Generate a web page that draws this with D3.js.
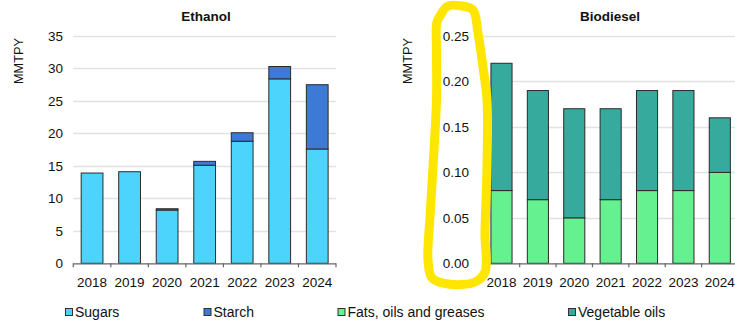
<!DOCTYPE html>
<html><head><meta charset="utf-8">
<script src="https://cdn.jsdelivr.net/npm/d3@7"></script>
<style>
html,body{margin:0;padding:0;background:#fff;}
svg{display:block;font-family:"Liberation Sans",Arial,sans-serif;}
</style></head>
<body><svg id="c" width="735" height="325"></svg>
<script>
const years = ["2018","2019","2020","2021","2022","2023","2024"];
const sugars = [13.9,14.1,8.2,15.1,18.8,28.4,17.6];
const starch = [0,0,0.2,0.6,1.3,1.9,9.9];
const fats = [0.08,0.07,0.05,0.07,0.08,0.08,0.10];
const vegOils = [0.14,0.12,0.12,0.10,0.11,0.11,0.06];
const ethanolTicks = [0,5,10,15,20,25,30,35];
const biodieselTicks = [0,0.05,0.10,0.15,0.20,0.25];

const svg = d3.select("#c");
const Y0 = 263.3, Y1 = 36;

function panel(o){
  const x = d3.scaleBand().domain(years).range([o.x0,o.x1]).paddingInner(0.42).paddingOuter(0.21);
  const y = d3.scaleLinear().domain(o.domain).range([Y0,Y1]);
  const g = svg.append("g");
  // grid
  g.selectAll("line.grid").data(o.ticks.slice(1)).join("line")
    .attr("x1",o.x0).attr("x2",o.gx1)
    .attr("y1",d=>Math.round(y(d))+0.5).attr("y2",d=>Math.round(y(d))+0.5)
    .attr("stroke","#e2e2e2").attr("stroke-width",1.3);
  // y tick labels
  g.selectAll("text.yt").data(o.ticks).join("text")
    .attr("x",o.labelX).attr("y",d=>y(d)).attr("dy","0.36em")
    .attr("text-anchor","end").attr("font-size","13.5px").attr("fill","#111")
    .text(o.fmt);
  // stacked bars
  const rows = years.map((yr,i)=>{const r={year:yr}; o.series.forEach(s=>r[s.key]=s.values[i]); return r;});
  const stack = d3.stack().keys(o.series.map(s=>s.key))(rows);
  stack.forEach((layer,li)=>{
    g.selectAll(null).data(layer.filter(d=>d[1]-d[0]>0)).join("rect")
      .attr("x",d=>x(d.data.year)).attr("width",x.bandwidth())
      .attr("y",d=>y(d[1])).attr("height",d=>y(d[0])-y(d[1]))
      .attr("fill",o.series[li].color).attr("stroke","#2a2a2a").attr("stroke-width",1);
  });
  // x axis
  const step = x.step();
  g.append("line").attr("x1",o.x0).attr("x2",o.x1).attr("y1",Y0+0.5).attr("y2",Y0+0.5)
    .attr("stroke","#666").attr("stroke-width",1.2);
  const bounds = d3.range(years.length+1).map(i=>o.x0+i*step);
  g.selectAll("line.xt").data(bounds).join("line")
    .attr("x1",d=>d).attr("x2",d=>d).attr("y1",Y0).attr("y2",Y0+4)
    .attr("stroke","#666").attr("stroke-width",1.2);
  g.selectAll("text.xl").data(years).join("text")
    .attr("x",d=>x(d)+x.bandwidth()/2).attr("y",287)
    .attr("text-anchor","middle").attr("font-size","13.5px").attr("fill","#111")
    .text(d=>d);
  // title
  g.append("text").attr("x",o.titleX).attr("y",21).attr("text-anchor","middle")
    .attr("font-size","13.5px").attr("font-weight","bold").attr("fill","#111").text(o.title);
  // y label
  g.append("text").attr("transform",`translate(${o.ylabX},61) rotate(-90)`)
    .attr("text-anchor","middle").attr("font-size","12px").attr("fill","#111")
    .attr("textLength",46).attr("lengthAdjust","spacingAndGlyphs").text("MMTPY");
}

panel({x0:73.3,x1:336,gx1:336,domain:[0,35],ticks:ethanolTicks,fmt:d3.format("d"),labelX:63,
  title:"Ethanol",titleX:206,ylabX:23,
  series:[{key:"Sugars",values:sugars,color:"#4dd4fd"},{key:"Starch",values:starch,color:"#3d7ad5"}]});
panel({x0:483.3,x1:738,gx1:735,domain:[0,0.25],ticks:biodieselTicks,fmt:d3.format(".2f"),labelX:469,
  title:"Biodiesel",titleX:610,ylabX:412,
  series:[{key:"Fats",values:fats,color:"#66f190"},{key:"Veg",values:vegOils,color:"#36ab9d"}]});

// legend
const legendItems = [
  {label:"Sugars",color:"#4dd4fd",x:65},
  {label:"Starch",color:"#3d7ad5",x:203.5},
  {label:"Fats, oils and greases",color:"#66f190",x:337.5},
  {label:"Vegetable oils",color:"#36ab9d",x:568}
];
const lg = svg.append("g");
legendItems.forEach(it=>{
  lg.append("rect").attr("x",it.x+0.5).attr("y",308.5).attr("width",7).attr("height",7)
    .attr("fill",it.color).attr("stroke","#333").attr("stroke-width",1);
  lg.append("text").attr("x",it.x+10).attr("y",317).attr("font-size","14px").attr("fill","#111").text(it.label);
});

// hand-drawn yellow highlight annotation
const hl = [[441,14],[448,6],[462,6],[473,10],[478,33],[483,67],[487,100],[487,167],[485,233],[485,272],[475,282],[448,284],[432,278],[428,260],[430,217],[433,167],[436.5,100],[436.5,50],[437,22],[442,13]];
svg.append("path").attr("d",d3.line().curve(d3.curveCatmullRom)(hl))
  .attr("fill","none").attr("stroke","#ffe600").attr("stroke-width",9)
  .attr("stroke-linecap","round").attr("stroke-linejoin","round");
</script></body></html>
